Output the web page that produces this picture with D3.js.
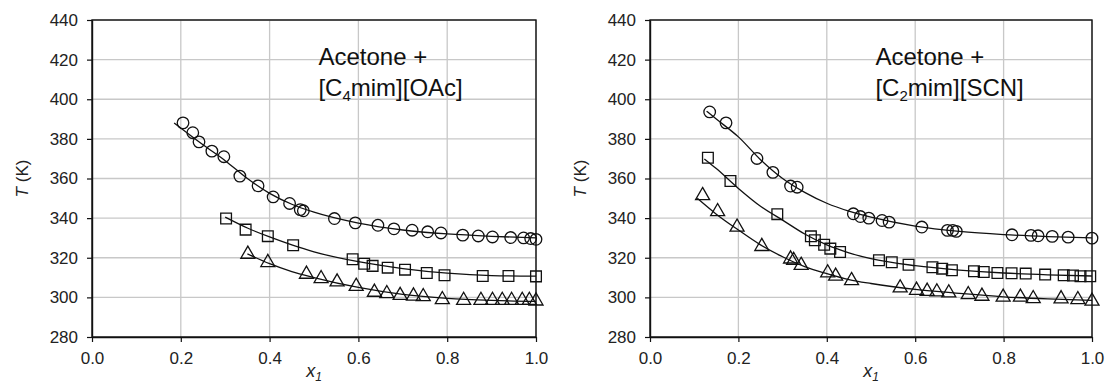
<!DOCTYPE html>
<html>
<head>
<meta charset="utf-8">
<script src="https://cdn.jsdelivr.net/npm/d3@7"></script>
<style>
  html, body { margin: 0; padding: 0; background: #fff; }
  svg { display: block; }
  text { font-family: Arial, "Liberation Sans", sans-serif; }
</style>
</head>
<body>
<svg id="chart" width="1107" height="387"></svg>
<script>
// ---------- tick values ----------
const xTicks = [0.0, 0.2, 0.4, 0.6, 0.8, 1.0];
const yTicks = [280, 300, 320, 340, 360, 380, 400, 420, 440];

// ---------- Left panel: Acetone + [C4mim][OAc] ----------
const L_circX = [0.205,0.227,0.241,0.270,0.297,0.333,0.374,0.408,0.445,0.469,0.476,0.546,0.593,0.644,0.680,0.721,0.756,0.786,0.835,0.870,0.902,0.943,0.972,0.988,1.0];
const L_circT = [388.1,383.1,378.5,373.8,371.0,361.2,356.3,350.7,347.4,344.3,343.7,339.8,337.6,336.4,334.6,333.9,333.1,332.5,331.4,331.0,330.5,330.2,330.0,329.7,329.3];
const L_sqX = [0.302,0.346,0.396,0.453,0.587,0.613,0.632,0.666,0.705,0.754,0.794,0.880,0.938,1.0];
const L_sqT = [339.8,334.2,330.9,326.3,319.2,317.0,315.9,315.0,314.0,312.3,311.2,310.8,310.8,310.6];
const L_triX = [0.351,0.396,0.483,0.516,0.552,0.595,0.636,0.664,0.694,0.724,0.746,0.789,0.837,0.876,0.902,0.924,0.945,0.969,0.985,1.0];
const L_triT = [321.8,317.6,311.7,309.5,307.8,305.6,302.6,301.9,301.0,300.7,300.4,298.9,298.5,298.5,298.5,298.5,298.5,298.5,298.5,298.2];
// fitted curves
const L_circFitX = [0.185,0.25,0.30,0.35,0.40,0.45,0.50,0.60,0.70,0.80,0.90,1.0];
const L_circFitT = [388.0,377.0,369.0,360.0,352.5,347.0,343.0,337.5,334.0,332.0,330.8,330.0];
const L_sqFitX = [0.300,0.35,0.40,0.45,0.50,0.60,0.70,0.80,0.90,1.0];
const L_sqFitT = [340.5,335.0,330.5,326.5,323.0,318.0,314.5,312.2,311.0,310.7];
const L_triFitX = [0.350,0.40,0.45,0.50,0.60,0.70,0.80,0.90,1.0];
const L_triFitT = [322.0,317.0,313.0,310.0,305.0,301.5,299.5,298.5,298.0];

// ---------- Right panel: Acetone + [C2mim][SCN] ----------
const R_circX = [0.135,0.172,0.242,0.278,0.318,0.333,0.460,0.476,0.495,0.525,0.541,0.615,0.673,0.685,0.693,0.819,0.862,0.878,0.910,0.946,1.0];
const R_circT = [393.6,388.1,370.1,363.1,356.2,355.6,342.2,340.8,340.0,338.8,338.0,335.5,333.8,333.8,333.3,331.6,331.3,331.1,330.8,330.4,329.9];
const R_sqX = [0.131,0.182,0.288,0.364,0.373,0.394,0.408,0.430,0.518,0.547,0.585,0.639,0.661,0.683,0.733,0.755,0.786,0.818,0.850,0.894,0.936,0.957,0.974,0.996];
const R_sqT = [370.5,358.7,342.0,330.8,328.8,326.6,324.6,322.9,318.7,317.7,316.5,315.2,314.5,313.7,313.2,312.8,312.3,312.2,312.0,311.5,311.2,311.0,310.7,310.7];
const R_triX = [0.119,0.153,0.197,0.253,0.318,0.325,0.342,0.402,0.420,0.456,0.566,0.603,0.627,0.649,0.676,0.720,0.751,0.799,0.838,0.867,0.930,0.968,1.0];
const R_triT = [351.4,343.3,335.5,325.7,319.4,318.7,316.2,312.4,310.7,308.5,304.8,303.6,303.1,302.8,302.3,301.4,300.6,300.1,300.1,299.4,299.3,298.9,298.1];
// fitted curves
const R_circFitX = [0.128,0.15,0.20,0.25,0.30,0.35,0.40,0.45,0.50,0.60,0.70,0.80,0.90,1.0];
const R_circFitT = [394.0,390.0,381.0,369.5,360.0,353.0,347.5,343.5,340.5,336.0,333.3,331.7,330.7,330.0];
const R_sqFitX = [0.123,0.15,0.20,0.25,0.30,0.35,0.40,0.45,0.50,0.60,0.70,0.80,0.90,1.0];
const R_sqFitT = [369.9,365.0,355.0,346.0,339.0,332.0,326.5,322.5,319.5,316.0,313.8,312.3,311.4,310.8];
const R_triFitX = [0.107,0.15,0.20,0.25,0.30,0.35,0.40,0.45,0.50,0.60,0.70,0.80,0.90,1.0];
const R_triFitT = [350.0,342.0,334.0,326.5,320.5,315.5,312.0,309.0,307.0,304.0,302.0,300.3,299.2,298.5];

const panels = [
  { x0: 92, x1: 536, title2: ["[C", "4", "mim][OAc]"],
    series: [
      { shape: "circle", x: L_circX, t: L_circT, fx: L_circFitX, ft: L_circFitT },
      { shape: "square", x: L_sqX, t: L_sqT, fx: L_sqFitX, ft: L_sqFitT },
      { shape: "triangle", x: L_triX, t: L_triT, fx: L_triFitX, ft: L_triFitT }
    ] },
  { x0: 650, x1: 1092, title2: ["[C", "2", "mim][SCN]"],
    series: [
      { shape: "circle", x: R_circX, t: R_circT, fx: R_circFitX, ft: R_circFitT },
      { shape: "square", x: R_sqX, t: R_sqT, fx: R_sqFitX, ft: R_sqFitT },
      { shape: "triangle", x: R_triX, t: R_triT, fx: R_triFitX, ft: R_triFitT }
    ] }
];

const plotTop = 20, plotBottom = 337;
const svg = d3.select("#chart");

const symbolFor = {
  circle: d3.symbol().type(d3.symbolCircle).size(105),
  square: d3.symbol().type(d3.symbolSquare).size(115),
  triangle: d3.symbol().type(d3.symbolTriangle).size(85)
};

panels.forEach(p => {
  const x = d3.scaleLinear().domain([0, 1]).range([p.x0, p.x1]);
  const y = d3.scaleLinear().domain([280, 440]).range([plotBottom, plotTop]);
  const g = svg.append("g");

  // gridlines
  g.append("g").selectAll("line").data(xTicks.slice(1)).join("line")
    .attr("x1", d => x(d)).attr("x2", d => x(d))
    .attr("y1", plotTop).attr("y2", plotBottom)
    .attr("stroke", "#c8c8c8").attr("stroke-width", 1.3);
  g.append("g").selectAll("line").data(yTicks.slice(1)).join("line")
    .attr("x1", p.x0).attr("x2", p.x1)
    .attr("y1", d => y(d)).attr("y2", d => y(d))
    .attr("stroke", "#c8c8c8").attr("stroke-width", 1.3);

  // frame
  g.append("rect").attr("x", p.x0).attr("y", plotTop)
    .attr("width", p.x1 - p.x0).attr("height", plotBottom - plotTop)
    .attr("fill", "none").attr("stroke", "#111").attr("stroke-width", 1.4);

  // axes
  const xAxis = d3.axisBottom(x).tickValues(xTicks).tickFormat(d3.format(".1f"))
    .tickSizeInner(5).tickSizeOuter(0).tickPadding(10);
  const yAxis = d3.axisLeft(y).tickValues(yTicks).tickFormat(d3.format("d"))
    .tickSizeInner(5).tickSizeOuter(0).tickPadding(9);
  const gx = g.append("g").attr("transform", `translate(0,${plotBottom})`).call(xAxis);
  const gy = g.append("g").attr("transform", `translate(${p.x0},0)`).call(yAxis);
  [gx, gy].forEach(a => {
    a.select(".domain").attr("stroke", "#111").attr("stroke-width", 1.4);
    a.selectAll(".tick line").attr("stroke", "#111").attr("stroke-width", 1.2);
    a.selectAll(".tick text").attr("font-size", 17).attr("fill", "#222")
      .attr("font-family", "Arial, 'Liberation Sans', sans-serif");
  });

  // axis titles
  const yl = g.append("text")
    .attr("transform", `translate(${p.x0 - 64},${(plotTop + plotBottom) / 2}) rotate(-90)`)
    .attr("text-anchor", "middle").attr("font-size", 17).attr("fill", "#222");
  yl.append("tspan").attr("font-style", "italic").text("T");
  yl.append("tspan").text(" (K)");

  const xl = g.append("text")
    .attr("x", (p.x0 + p.x1) / 2).attr("y", 377)
    .attr("text-anchor", "middle").attr("font-size", 18).attr("fill", "#222")
    .attr("font-style", "italic");
  xl.append("tspan").text("x");
  xl.append("tspan").attr("font-size", 12).attr("dy", 4).text("1");

  // fitted lines
  const line = d3.line().x(d => x(d[0])).y(d => y(d[1])).curve(d3.curveMonotoneX);
  p.series.forEach(s => {
    g.append("path").datum(s.fx.map((v, i) => [v, s.ft[i]]))
      .attr("d", line).attr("fill", "none")
      .attr("stroke", "#111").attr("stroke-width", 1.3);
  });

  // markers
  p.series.forEach(s => {
    g.append("g").selectAll("path").data(s.x.map((v, i) => [v, s.t[i]])).join("path")
      .attr("transform", d => `translate(${x(d[0])},${y(d[1])})`)
      .attr("d", symbolFor[s.shape])
      .attr("fill", "none").attr("stroke", "#111").attr("stroke-width", 1.3);
  });

  // title
  const tx = x(0.51);
  g.append("text").attr("x", tx).attr("y", y(417.5))
    .attr("font-size", 24).attr("fill", "#111").text("Acetone +");
  const t2 = g.append("text").attr("x", tx).attr("y", y(401.5))
    .attr("font-size", 24).attr("fill", "#111");
  t2.append("tspan").text(p.title2[0]);
  t2.append("tspan").attr("font-size", 15).attr("dy", 5).text(p.title2[1]);
  t2.append("tspan").attr("dy", -5).text(p.title2[2]);
});
</script>
</body>
</html>
